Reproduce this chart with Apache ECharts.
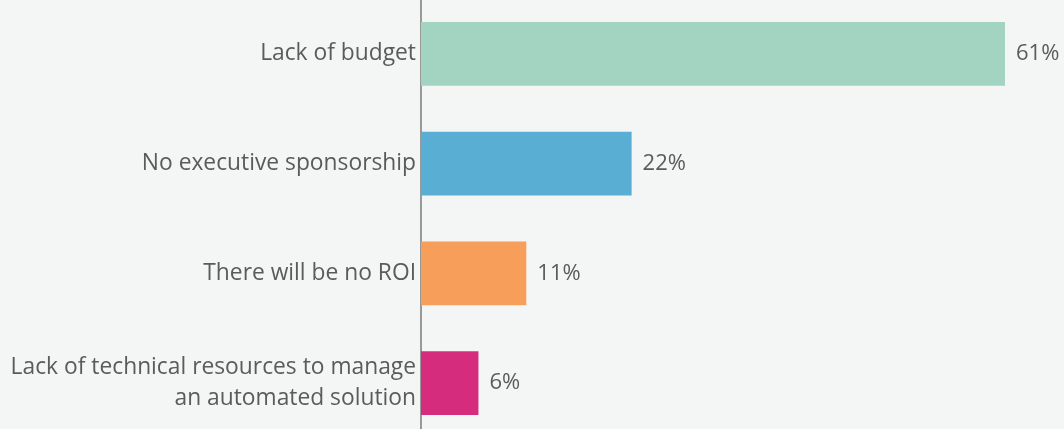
<!DOCTYPE html>
<html>
<head>
<meta charset="utf-8">
<script src="https://cdn.jsdelivr.net/npm/echarts@6/dist/echarts.min.js"></script>
<style>
  html, body { margin: 0; padding: 0; background: #f4f6f5; }
  #chart { width: 1064px; height: 429px; }
</style>
</head>
<body>
<div id="chart"></div>
<script>
// Reasons given for not adopting automation (share of respondents, %)
const categories = [
  'Lack of budget',
  'No executive sponsorship',
  'There will be no ROI',
  'Lack of technical resources to manage\nan automated solution'
];
const values = [61, 22, 11, 6];
const barColors = ['#a3d3c1', '#59aed3', '#f89e5b', '#d62c7e'];

const chart = echarts.init(document.getElementById('chart'), null, { renderer: 'canvas' });

chart.setOption({
  backgroundColor: '#f4f6f5',
  animation: false,
  grid: {
    left: 421, width: 584, top: -1, height: 439,
    containLabel: false,
    outerBoundsMode: 'none'
  },
  xAxis: {
    type: 'value',
    min: 0,
    max: 61,
    show: false
  },
  yAxis: {
    type: 'category',
    inverse: true,
    data: categories,
    axisTick: { show: false },
    axisLine: { show: true, lineStyle: { color: '#7a7a7a', width: 1.5 } },
    axisLabel: {
      margin: 5,
      color: '#5b5b5b',
      fontFamily: 'Open Sans',
      fontSize: 22.8,
      lineHeight: 31,
      align: 'right'
    }
  },
  series: [{
    type: 'bar',
    data: values.map((v, i) => ({ value: v, itemStyle: { color: barColors[i] } })),
    barCategoryGap: '42%',
    label: {
      show: true,
      position: 'right',
      distance: 11,
      formatter: '{c}%',
      color: '#5b5b5b',
      fontFamily: 'Open Sans',
      fontSize: 22
    }
  }]
});
</script>
</body>
</html>
